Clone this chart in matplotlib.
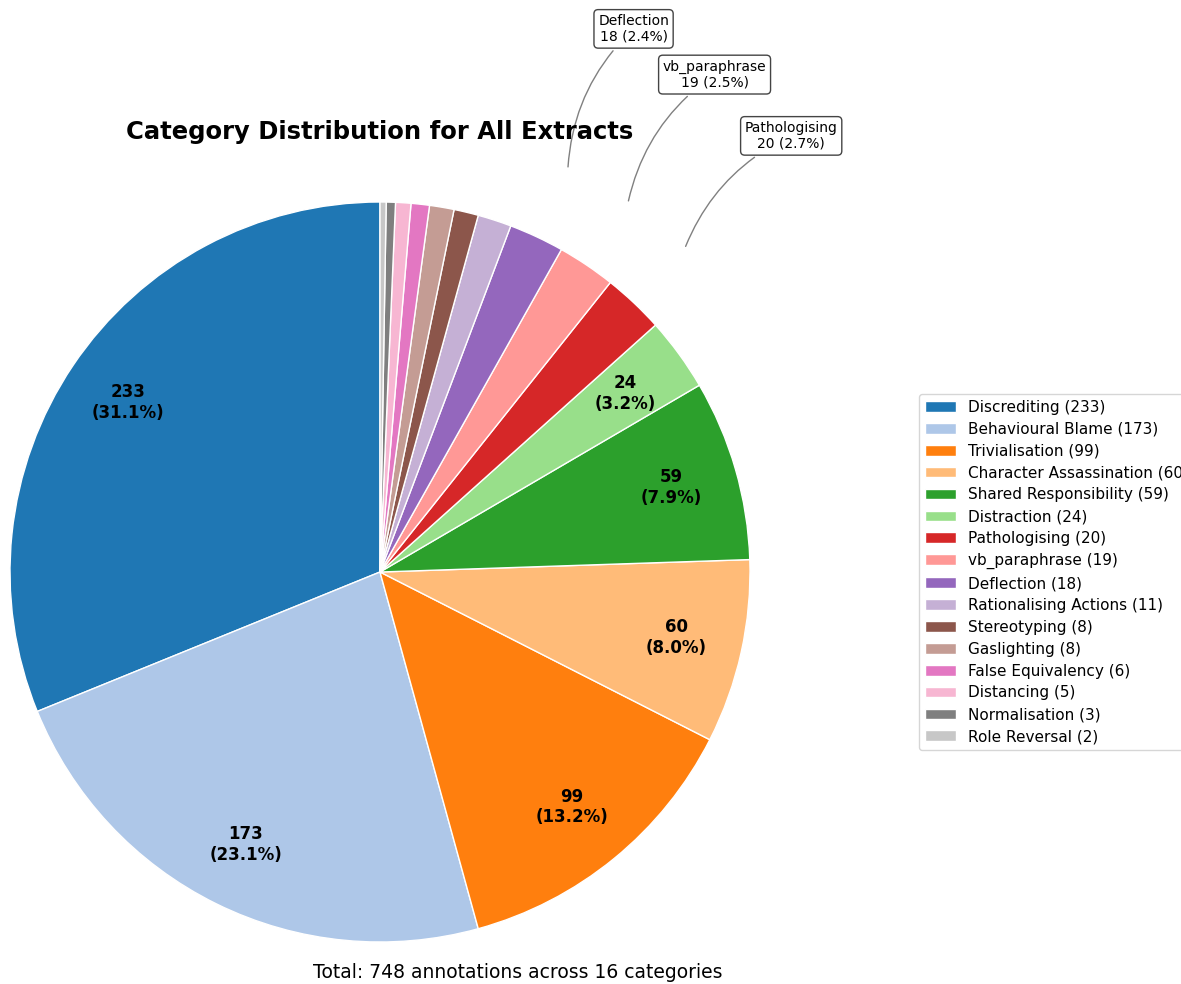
import numpy as np
import matplotlib
matplotlib.use("Agg")
import matplotlib.pyplot as plt

categories = ["Discrediting", "Behavioural Blame", "Trivialisation", "Character Assassination",
              "Shared Responsibility", "Distraction", "Pathologising", "vb_paraphrase", "Deflection",
              "Rationalising Actions", "Stereotyping", "Gaslighting", "False Equivalency",
              "Distancing", "Normalisation", "Role Reversal"]
counts = [233, 173, 99, 60, 59, 24, 20, 19, 18, 11, 8, 8, 6, 5, 3, 2]
annotated = ["Pathologising", "vb_paraphrase", "Deflection"]

total = sum(counts)
colors = plt.cm.tab20(np.arange(len(counts)))

W, H = 1181, 984
fig = plt.figure(figsize=(W / 100, H / 100), dpi=100)

# pie centre (380, 572) px, radius 370 px
cx, cy, r = 380, 572, 370
ax = fig.add_axes([(cx - r) / W, (H - cy - r) / H, 2 * r / W, 2 * r / H])


def fmt(pct):
    if pct < 3:
        return ""
    n = int(round(pct * total / 100))
    return f"{n}\n({pct:.1f}%)"


wedges, texts, autotexts = ax.pie(counts, colors=colors, startangle=90, autopct=fmt,
                                  pctdistance=0.82, radius=1,
                                  wedgeprops=dict(edgecolor="white", linewidth=1),
                                  textprops=dict(fontsize=12, fontweight="bold", color="black"))
ax.set_xlim(-1, 1)
ax.set_ylim(-1, 1)
ax.set_aspect("equal")
ax.axis("off")

for w, name, n in zip(wedges, categories, counts):
    if name not in annotated:
        continue
    ang = np.deg2rad((w.theta1 + w.theta2) / 2)
    x, y = np.cos(ang), np.sin(ang)
    ax.annotate(f"{name}\n{n} ({n / total * 100:.1f}%)", xy=(1.2 * x, 1.2 * y),
                xytext=(1.62 * x, 1.62 * y), ha="center", va="center", fontsize=10,
                bbox=dict(boxstyle="round,pad=0.3", fc="white", ec="#444444", lw=1),
                arrowprops=dict(arrowstyle="-", color="gray", lw=1,
                                connectionstyle="arc3,rad=0.2"),
                annotation_clip=False)

fig.text(cx / W, 1 - 132 / H, "Category Distribution for All Extracts", ha="center",
         va="center", fontsize=17.5, fontweight="bold")

labels = [f"{c} ({n})" for c, n in zip(categories, counts)]
fig.legend(wedges, labels, loc="center left", bbox_to_anchor=(919 / W, 1 - 572 / H),
           borderaxespad=0, fontsize=11, labelspacing=0.45, handlelength=2.0, frameon=True)

fig.text(518 / W, 1 - 973 / H, f"Total: {total} annotations across {len(counts)} categories",
         ha="center", va="center", fontsize=13.5)

fig.savefig("out.png", dpi=100)
